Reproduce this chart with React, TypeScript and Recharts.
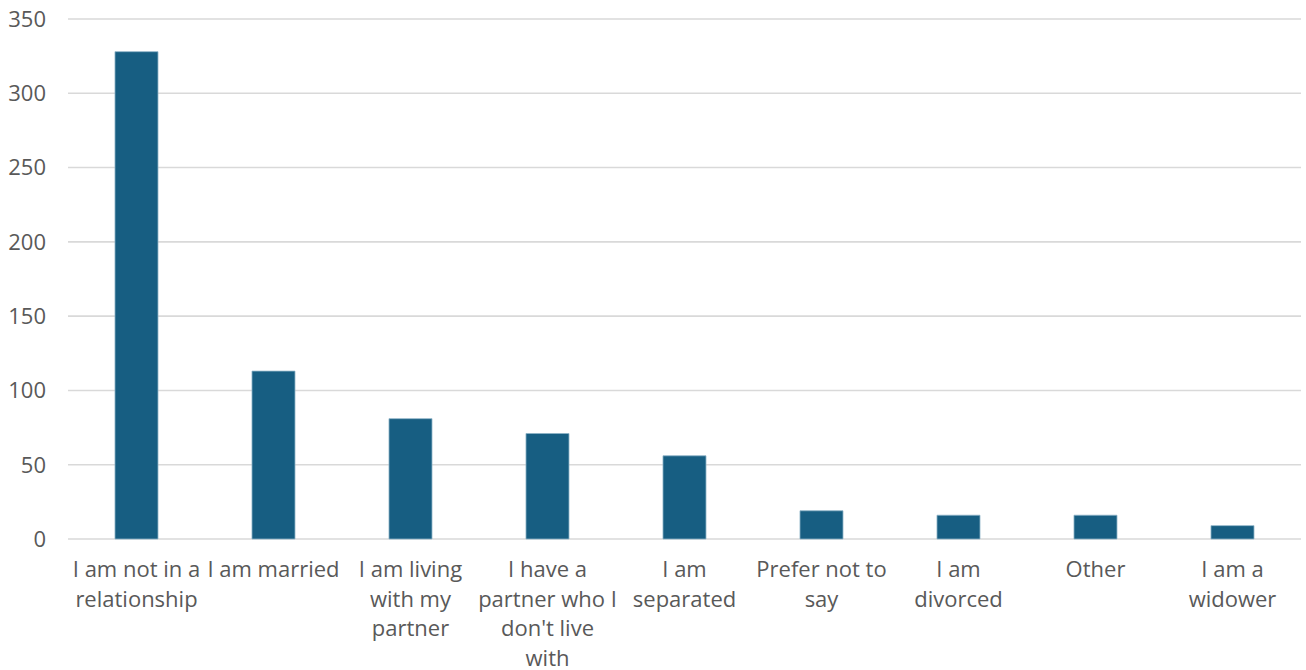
import React from "react";
import { BarChart, Bar, XAxis, YAxis, CartesianGrid } from "recharts";

const categories = [
  "I am not in a\nrelationship",
  "I am married",
  "I am living\nwith my\npartner",
  "I have a\npartner who I\ndon't live\nwith",
  "I am\nseparated",
  "Prefer not to\nsay",
  "I am\ndivorced",
  "Other",
  "I am a\nwidower",
];
const counts = [328, 113, 81, 71, 56, 19, 16, 16, 9];
const yTicks = [0, 50, 100, 150, 200, 250, 300, 350];

const data = categories.map((c, i) => ({ name: c, value: counts[i] }));

const FONT = "'Open Sans', sans-serif";
const TEXT = "#595959";

const XTick = (props: any) => {
  const { x, y, payload } = props;
  const lines = String(payload.value).split("\n");
  return (
    <text
      x={x}
      y={y + 38}
      textAnchor="middle"
      fill={TEXT}
      fontSize={22}
      fontFamily={FONT}
    >
      {lines.map((l, i) => (
        <tspan key={i} x={x} dy={i === 0 ? 0 : 29.5}>
          {l}
        </tspan>
      ))}
    </text>
  );
};

export default function App() {
  return (
    <div style={{ position: "absolute", left: 0, top: 0, width: 1306, height: 670, background: "#fff" }}>
      <BarChart
        width={1306}
        height={670}
        data={data}
        margin={{ top: 19, right: 5, left: 0, bottom: 0 }}
        barCategoryGap="34.3%"
      >
        <CartesianGrid vertical={false} stroke="#D9D9D9" strokeWidth={1.6} />
        <XAxis
          dataKey="name"
          interval={0}
          axisLine={false}
          tickLine={false}
          tickSize={0}
          tickMargin={0}
          height={131}
          tick={<XTick />}
        />
        <YAxis
          width={68}
          domain={[0, 350]}
          ticks={yTicks}
          axisLine={false}
          tickLine={false}
          tickSize={0}
          tickMargin={22}
          tick={{ fill: TEXT, fontSize: 22, fontFamily: FONT }}
        />
        <Bar
          dataKey="value"
          fill="#175E82"
          stroke="#8DB2C6"
          strokeWidth={0.8}
          isAnimationActive={false}
        />
      </BarChart>
    </div>
  );
}
